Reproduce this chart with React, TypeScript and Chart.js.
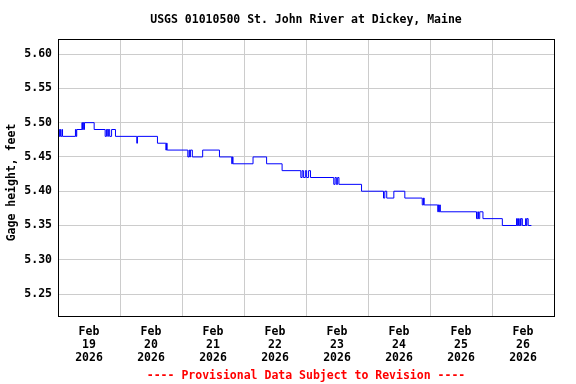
import { useEffect, useRef } from 'react';
import { Chart, registerables } from 'chart.js';

Chart.register(...registerables);

const TITLE = 'USGS 01010500 St. John River at Dickey, Maine';
const Y_LABEL = 'Gage height, feet';
const FOOTER = '---- Provisional Data Subject to Revision ----';
const MONTH_LABEL = 'Feb';
const YEAR_LABEL = '2026';
const DAY_LABELS = ['19', '20', '21', '22', '23', '24', '25', '26'];
const Y_MIN = 5.218;
const Y_MAX = 5.622;
const X_MAX_HOURS = 192;

// hours since Feb 19 00:00 at which the reading changes
const HOURS = [
  0, 0.5, 0.75, 1.0, 1.5, 1.75, 6.75, 7.0, 7.25, 9.25, 9.5, 9.75, 10.0, 10.25,
  14.0, 18.25, 18.75, 19.25, 19.5, 20.0, 20.75, 22.25, 30.5, 30.75, 38.5,
  41.75, 42.0, 42.25, 50.25, 50.75, 51.0, 51.25, 52.0, 56.0, 62.5, 67.25,
  67.5, 67.75, 75.5, 80.75, 86.75, 94.0, 94.5, 95.0, 95.75, 96.25, 97.0,
  97.75, 106.75, 107.25, 107.75, 108.25, 108.75, 117.5, 126.0, 126.5, 127.25,
  130.0, 134.25, 141.0, 141.5, 141.75, 147.0, 147.25, 147.5, 147.75, 148.0,
  162.0, 162.5, 162.75, 163.25, 164.5, 172.0, 177.5, 177.75, 178.0, 178.25,
  178.75, 179.0, 179.25, 179.75, 181.0, 181.25, 181.5, 182.0, 183.25,
];

// gage height (feet) from each change time on
const STAGE = [
  5.49, 5.48, 5.49, 5.48, 5.49, 5.48, 5.49, 5.48, 5.49, 5.50, 5.49, 5.50, 5.49, 5.50,
  5.49, 5.48, 5.49, 5.48, 5.49, 5.48, 5.49, 5.48, 5.47, 5.48, 5.47,
  5.46, 5.47, 5.46, 5.45, 5.46, 5.45, 5.46, 5.45, 5.46, 5.45, 5.44,
  5.45, 5.44, 5.45, 5.44, 5.43, 5.42, 5.43, 5.42, 5.43, 5.42, 5.43,
  5.42, 5.41, 5.42, 5.41, 5.42, 5.41, 5.40, 5.39, 5.40, 5.39,
  5.40, 5.39, 5.38, 5.39, 5.38, 5.37, 5.38, 5.37, 5.38, 5.37,
  5.36, 5.37, 5.36, 5.37, 5.36, 5.35, 5.36, 5.35, 5.36, 5.35,
  5.36, 5.35, 5.36, 5.35, 5.36, 5.35, 5.36, 5.35, 5.35,
];

const FONT_FAMILY = '"DejaVu Sans Mono", "Liberation Mono", monospace';
const FONT_SIZE = 11.5;

export default function App() {
  const canvasRef = useRef<HTMLCanvasElement | null>(null);

  useEffect(() => {
    document.body.style.margin = '0';
    const canvas = canvasRef.current;
    if (!canvas) return;

    const framePlugin = {
      id: 'frameAndYLabel',
      afterDraw(chart: any) {
        const { ctx, chartArea: a } = chart;
        ctx.save();
        ctx.strokeStyle = '#000000';
        ctx.lineWidth = 1;
        ctx.strokeRect(
          Math.round(a.left) + 0.5,
          Math.round(a.top) + 0.5,
          Math.round(a.right) - Math.round(a.left),
          Math.round(a.bottom) - Math.round(a.top)
        );
        ctx.translate(12, 182.5);
        ctx.rotate(-Math.PI / 2);
        ctx.fillStyle = '#000000';
        ctx.font = `bold ${FONT_SIZE}px ${FONT_FAMILY}`;
        ctx.textAlign = 'center';
        ctx.textBaseline = 'middle';
        ctx.fillText(Y_LABEL, 0, 0);
        ctx.restore();
      },
    };

    const font = { family: FONT_FAMILY, size: FONT_SIZE, weight: 'bold' as const, lineHeight: 1.2 };

    const chart = new Chart(canvas, {
      type: 'line',
      data: {
        datasets: [
          {
            data: HOURS.map((h, i) => ({ x: h, y: STAGE[i] })),
            borderColor: '#0000ff',
            borderWidth: 1,
            pointRadius: 0,
            stepped: 'before',
            fill: false,
            tension: 0,
          },
        ],
      },
      options: {
        responsive: false,
        animation: false,
        events: [],
        layout: { padding: { left: 0, right: 22, top: 0, bottom: 0 } },
        plugins: {
          legend: { display: false },
          tooltip: { enabled: false },
          title: {
            display: true,
            text: TITLE,
            color: '#000000',
            font,
            fullSize: false,
            padding: { top: 13.5, bottom: 11.7 },
          },
          subtitle: {
            display: true,
            position: 'bottom',
            text: FOOTER,
            color: '#ff0000',
            font,
            fullSize: false,
            padding: { top: 1, bottom: 1.2 },
          },
        },
        scales: {
          x: {
            type: 'linear',
            min: 0,
            max: X_MAX_HOURS,
            afterFit: (s: any) => {
              s.height = 52;
            },
            border: { display: false },
            grid: {
              drawTicks: false,
              lineWidth: 1,
              color: (c: any) =>
                c.tick && c.tick.value % 24 === 0 ? '#cccccc' : 'rgba(0,0,0,0)',
            },
            ticks: {
              stepSize: 12,
              autoSkip: false,
              maxRotation: 0,
              minRotation: 0,
              padding: 9.5,
              color: '#000000',
              font: { ...font, lineHeight: 1.13 },
              callback: (v: any) => {
                const n = Number(v);
                if (n % 24 === 12) {
                  const i = (n - 12) / 24;
                  return [MONTH_LABEL, DAY_LABELS[i], YEAR_LABEL];
                }
                return '';
              },
            },
          },
          y: {
            type: 'linear',
            min: Y_MIN,
            max: Y_MAX,
            afterFit: (s: any) => {
              s.width = 58;
            },
            border: { display: false },
            grid: { drawTicks: false, color: '#cccccc', lineWidth: 1 },
            ticks: {
              stepSize: 0.05,
              includeBounds: false,
              padding: 6,
              color: '#000000',
              font,
              callback: (v: any) => Number(v).toFixed(2),
            },
          },
        },
      },
      plugins: [framePlugin],
    });

    return () => chart.destroy();
  }, []);

  return (
    <div style={{ width: 576, height: 384 }}>
      <canvas ref={canvasRef} width={576} height={384} />
    </div>
  );
}
